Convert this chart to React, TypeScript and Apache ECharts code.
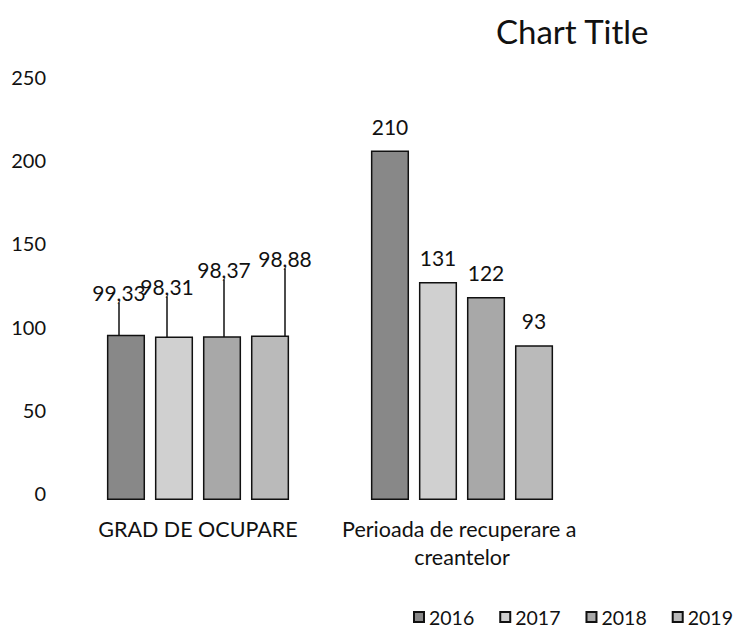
import React, { useEffect, useRef } from "react";
import * as echarts from "echarts";

const categories = ["GRAD DE OCUPARE", "Perioada de recuperare a creantelor"];
const seriesNames = ["2016", "2017", "2018", "2019"];
const values2016 = [99.33, 210];
const values2017 = [98.31, 131];
const values2018 = [98.37, 122];
const values2019 = [98.88, 93];
const yTicks = { min: 0, max: 250, interval: 50 };

const colors = ["#888888", "#d0d0d0", "#a8a8a8", "#bababa"];
// label positions (px) for the first category's moved labels
const movedLabelPos = [
  [119, 292],
  [167, 286],
  [224, 269],
  [285, 258],
];

export default function App() {
  const ref = useRef<HTMLDivElement>(null);
  useEffect(() => {
    if (!ref.current) return;
    const chart = echarts.init(ref.current, null, { renderer: "svg" });
    const all = [values2016, values2017, values2018, values2019];
    const font = "Lato, 'Open Sans', sans-serif";
    chart.setOption({
      animation: false,
      backgroundColor: "#ffffff",
      title: {
        text: "Chart Title",
        left: 491,
        top: 9,
        textStyle: { fontFamily: font, fontSize: 33, fontWeight: "normal", color: "#111" },
      },
      legend: {
        data: seriesNames,
        left: 408,
        top: 602,
        width: 329,
        itemWidth: 10,
        itemHeight: 10,
        itemGap: 25,
        icon: "rect",
        textStyle: { fontFamily: font, fontSize: 19.5, color: "#111" },
      },
      grid: { left: 66, width: 528, top: 84, height: 416, containLabel: false },
      xAxis: {
        type: "category",
        data: categories,
        axisLine: { show: false },
        axisTick: { show: false },
        axisLabel: {
          margin: 15,
          fontFamily: font,
          fontSize: 21.5,
          color: "#111",
          width: 262,
          overflow: "break",
          lineHeight: 28,
          interval: 0,
        },
      },
      yAxis: {
        type: "value",
        min: yTicks.min,
        max: yTicks.max,
        interval: yTicks.interval,
        splitLine: { show: false },
        axisLine: { show: false },
        axisTick: { show: false },
        axisLabel: {
          margin: 20,
          fontFamily: font,
          fontSize: 20,
          color: "#111",
          verticalAlign: "bottom",
          lineHeight: 14,
        },
      },
      series: seriesNames.map((name, si) => ({
        name,
        type: "bar",
        barGap: "26%",
        barCategoryGap: "31%",
        itemStyle: { color: colors[si], borderColor: "#111", borderWidth: 1.5 },
        label: {
          show: true,
          position: "top",
          distance: 14,
          fontFamily: font,
          fontSize: 21,
          color: "#111",
          formatter: (p: any) => String(p.value).replace(".", ","),
        },
        labelLine: { show: false },
        labelLayout: (p: any) => {
          if (p.dataIndex === 0) {
            const pos = movedLabelPos[si];
            return { x: pos[0], y: pos[1], align: "center", verticalAlign: "middle" };
          }
          return {};
        },
        data: all[si].map((v, di) =>
          di === 0
            ? { value: v, labelLine: { show: true, lineStyle: { color: "#111", width: 1.5 } } }
            : { value: v }
        ),
      })),
    });
    return () => chart.dispose();
  }, []);
  return (
    <div
      ref={ref}
      style={{ position: "absolute", left: 0, top: 0, width: 737, height: 628 }}
    />
  );
}
